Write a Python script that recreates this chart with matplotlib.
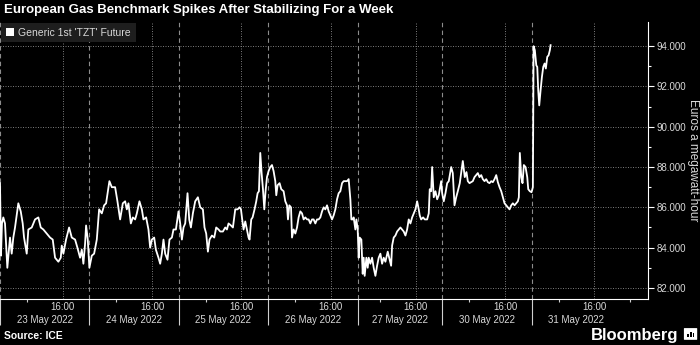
import matplotlib
matplotlib.use("Agg")
import matplotlib.pyplot as plt
from matplotlib.patches import Patch, FancyBboxPatch, Rectangle

plt.rcParams['font.family'] = ['Liberation Sans', 'DejaVu Sans']

# trading sessions shown on the (gap-free) time axis
days = ["23 May 2022", "24 May 2022", "25 May 2022", "26 May 2022",
        "27 May 2022", "30 May 2022", "31 May 2022"]
open_hour = [9, 9, 9, 9, 9.5, 9, 9]
close_hour = [19, 19, 19, 19, 19, 19, 19]
last_hour = 22   # axis runs on to 22:00 on the final day

# trading hours since the 23 May open, and price (EUR/MWh)
hours = [
    # 23 May
    0.00, 0.11, 0.22, 0.37, 0.56, 0.82, 1.12, 1.31, 1.49, 1.68, 2.05, 2.32, 2.54, 2.69,
    2.99, 3.17, 3.55, 3.92, 4.29, 4.56, 4.85, 5.23, 5.60, 5.90, 6.16, 6.53, 6.80, 6.91,
    7.09, 7.39, 7.73, 8.03, 8.40, 8.66, 8.96, 9.15, 9.33, 9.52, 9.63, 9.82, 10.00,
    # 24 May
    10.27, 10.53, 10.83, 11.09, 11.39, 11.65, 11.87, 12.24, 12.51, 12.88, 13.14, 13.44,
    13.74, 14.00, 14.19, 14.37, 14.64, 14.86, 15.12, 15.31, 15.60, 15.87, 16.05, 16.35,
    16.61, 16.80, 16.99, 17.25, 17.44, 17.73, 17.92, 18.11, 18.29, 18.48, 18.74, 18.96,
    19.23, 19.41, 19.68, 19.97,
    # 25 May
    20.16, 20.35, 20.53, 20.72, 20.98, 21.17, 21.36, 21.58, 21.84, 22.14, 22.40, 22.70,
    22.88, 23.07, 23.26, 23.44, 23.71, 23.97, 24.19, 24.45, 24.64, 24.94, 25.20, 25.39,
    25.57, 25.84, 26.06, 26.21, 26.32, 26.58, 26.80, 26.96, 27.07, 27.25, 27.44, 27.63,
    27.81, 27.92, 28.11, 28.26, 28.48, 28.67, 28.82, 28.97, 29.12, 29.27, 29.42, 29.57,
    29.71, 29.87, 30.05,
    # 26 May
    30.24, 30.43, 30.61, 30.80, 30.91, 31.06, 31.28, 31.47, 31.73, 31.92, 32.11, 32.22,
    32.37, 32.56, 32.67, 32.85, 33.04, 33.23, 33.41, 33.60, 33.79, 33.97, 34.16, 34.35,
    34.53, 34.72, 34.91, 35.09, 35.28, 35.47, 35.65, 35.84, 36.03, 36.21, 36.40, 36.59,
    36.77, 36.96, 37.15, 37.33, 37.52, 37.71, 37.89, 38.08, 38.27, 38.45, 38.64, 38.83,
    39.01, 39.20, 39.31, 39.46, 39.57, 39.76, 39.87, 40.02,
    # 27 May
    40.13, 40.24, 40.43, 40.58, 40.69, 40.80, 40.99, 41.14, 41.25, 41.44, 41.63, 41.81,
    42.00, 42.19, 42.37, 42.56, 42.75, 42.93, 43.12, 43.38, 43.60, 43.76, 43.87, 44.05,
    44.24, 44.43, 44.61, 44.80, 44.99, 45.17, 45.36, 45.55, 45.73, 45.92, 46.11, 46.29,
    46.48, 46.67, 46.85, 46.96, 47.12, 47.34, 47.52, 47.79, 47.97, 48.08, 48.24, 48.35,
    48.53, 48.72, 48.91, 49.09, 49.36, 49.47,
    # 30 May
    49.65, 49.84, 50.03, 50.21, 50.48, 50.66, 50.85, 51.04, 51.22, 51.44, 51.60, 51.78,
    52.00, 52.19, 52.34, 52.53, 52.72, 52.90, 53.09, 53.28, 53.46, 53.65, 53.84, 54.02,
    54.21, 54.40, 54.58, 54.77, 54.96, 55.14, 55.33, 55.52, 55.70, 55.89, 56.08, 56.26,
    56.45, 56.64, 56.82, 57.01, 57.20, 57.38, 57.57, 57.76, 57.94, 58.05, 58.16, 58.32,
    58.46, 58.61, 58.80, 58.99, 59.10, 59.28, 59.47, 59.62,
    # 31 May
    59.70, 59.84, 60.00, 60.11, 60.22, 60.33, 60.48, 60.63, 60.78, 60.93, 61.07, 61.23,
    61.38, 61.52, 61.60,
]
price = [
    # 23 May
    87.2, 83.6, 85.2, 85.5, 85.2, 83.0, 84.5, 83.7, 84.5, 85.0, 86.2, 85.8, 85.2, 84.5,
    83.7, 84.9, 85.0, 85.4, 85.5, 85.0, 84.9, 84.7, 84.5, 84.4, 83.5, 83.3, 83.5, 84.1,
    83.7, 84.4, 85.0, 84.5, 84.4, 84.0, 83.5, 83.9, 83.2, 84.2, 85.1, 84.4, 83.0,
    # 24 May
    83.6, 83.7, 84.4, 85.9, 85.7, 86.1, 86.2, 87.3, 87.0, 87.0, 86.3, 85.4,
    86.2, 86.3, 85.9, 86.2, 85.2, 85.5, 85.4, 85.7, 86.3, 85.9, 85.4, 85.5,
    84.9, 84.0, 84.4, 84.5, 83.9, 83.5, 83.2, 83.7, 84.4, 83.7, 83.4, 84.4,
    84.5, 84.9, 84.9, 85.8,
    # 25 May
    85.2, 84.4, 85.0, 85.2, 86.7, 85.4, 85.0, 85.7, 86.3, 86.5, 86.0, 85.9,
    85.0, 84.7, 83.8, 84.4, 84.6, 84.5, 85.0, 84.9, 84.8, 84.8, 85.0, 84.9,
    85.2, 85.1, 85.0, 85.5, 85.9, 85.9, 86.0, 85.9, 85.5, 84.9, 85.3, 84.9,
    84.5, 84.4, 85.4, 85.5, 85.9, 86.3, 86.7, 86.8, 88.7, 87.7, 86.9, 85.9,
    86.8, 87.5, 87.8,
    # 26 May
    88.0, 88.1, 87.8, 87.3, 86.6, 87.1, 87.2, 86.9, 86.8, 86.3, 86.1, 85.4,
    86.1, 86.0, 84.5, 84.9, 84.7, 85.0, 85.5, 85.8, 85.7, 85.4, 85.5, 85.4,
    85.4, 85.2, 85.4, 85.4, 85.2, 85.4, 85.4, 85.5, 85.8, 86.0, 85.9, 86.1,
    85.8, 85.6, 85.4, 85.6, 85.9, 86.4, 86.7, 86.8, 87.2, 87.3, 87.3, 87.3,
    87.4, 86.4, 85.4, 85.4, 85.5, 84.9, 85.4, 84.9,
    # 27 May
    83.5, 84.5, 84.4, 82.7, 83.5, 82.6, 83.5, 83.0, 83.5, 83.2, 83.5, 83.0,
    82.6, 83.1, 83.5, 83.7, 83.2, 83.5, 83.3, 83.8, 83.4, 83.1, 84.1, 84.5,
    84.6, 84.8, 84.9, 85.0, 84.9, 84.8, 84.6, 84.9, 85.4, 85.2, 85.5, 85.7,
    85.9, 86.3, 85.9, 85.6, 85.4, 85.5, 85.4, 85.4, 85.7, 86.9, 86.8, 88.0,
    86.5, 86.8, 86.4, 86.6, 87.3, 86.7,
    # 30 May
    86.3, 86.7, 87.2, 87.3, 88.0, 87.7, 86.1, 86.5, 86.8, 87.2, 87.7, 88.3,
    87.5, 87.75, 87.3, 87.2, 87.25, 87.3, 87.5, 87.6, 87.7, 87.5, 87.6, 87.4,
    87.3, 87.4, 87.25, 87.2, 87.3, 87.25, 87.4, 87.6, 87.25, 87.0, 86.8, 86.5,
    86.2, 86.1, 86.0, 85.9, 86.1, 86.2, 86.1, 86.2, 86.3, 86.5, 88.7, 87.5,
    87.2, 88.1, 88.0, 87.5, 86.9, 86.8, 86.75, 87.0,
    # 31 May
    94.0, 93.8, 93.05, 92.97, 91.8, 91.06, 91.8, 92.47, 92.97, 93.14, 92.89, 93.47,
    93.55, 93.8, 94.05,
]

y_major = [82, 84, 86, 88, 90, 92, 94]
y_minor = [83, 85, 87, 89, 91, 93]

title = "European Gas Benchmark Spikes After Stabilizing For a Week"
series_name = "Generic 1st 'TZT' Future"
y_title = "Euros a megawatt-hour"
source = "Source: ICE"

grid_col = "#8c8c8c"
txt_col = "#d9d9d9"

# session start positions on the gap-free axis
starts = [0]
for o, c in zip(open_hour[:-1], close_hour[:-1]):
    starts.append(starts[-1] + c - o)
x_end = starts[-1] + last_hour - open_hour[-1]
ends = starts[1:] + [x_end]


def at(i, h):
    return starts[i] + h - open_hour[i]


sixteen = [at(i, 16) for i in range(len(days))]
centers = [at(i, (open_hour[i] + close_hour[i]) / 2) for i in range(len(days))]
small = [at(i, h) for i in range(len(days)) for h in (12, 20) if at(i, h) < ends[i]]

fig = plt.figure(figsize=(7, 3.45), dpi=100, facecolor="black")
ax = fig.add_axes([0, 46 / 345, 648 / 700, 277 / 345])
ax.set_facecolor("black")

for s in starts:
    ax.axvline(s, color=grid_col, lw=0.8, ls=(0, (4, 3)), zorder=1)
for p in sixteen:
    ax.axvline(p, color=grid_col, lw=0.6, ls=(0, (1.2, 1.8)), zorder=1)
ax.yaxis.grid(True, color=grid_col, lw=0.6, ls=(0, (1.2, 1.8)), zorder=1)
ax.set_axisbelow(True)

ax.plot(hours, price, color="white", lw=1.3, zorder=3)

ax.set_xlim(0, x_end)
ax.set_ylim(81.45, 95.2)

# y axis on the right
ax.yaxis.tick_right()
ax.set_yticks(y_major, labels=[f"{v:.3f}" for v in y_major])
ax.set_yticks(y_minor, minor=True)
ax.tick_params(axis="y", which="major", length=4, width=0.8, color="white",
               labelcolor=txt_col, labelsize=7, pad=2)
ax.tick_params(axis="y", which="minor", length=2.5, width=0.8, color="white")

# x axis: day separators (long), 12:00 marks (short)
ax.set_xticks(starts, labels=[""] * len(starts))
ax.set_xticks(small, minor=True)
ax.tick_params(axis="x", which="major", length=19, width=0.8, color="#cfcfcf")
ax.tick_params(axis="x", which="minor", length=2.5, width=0.8, color="#cfcfcf")

sec = ax.secondary_xaxis("bottom")
sec.set_xticks(sixteen, labels=["16:00"] * len(sixteen))
sec.set_xticks(centers, labels=days, minor=True)
sec.tick_params(which="major", length=0, pad=2.5, labelsize=7, labelcolor=txt_col)
sec.tick_params(which="minor", length=0, pad=11.5, labelsize=7, labelcolor=txt_col)
sec.spines["bottom"].set_visible(False)

for side in ("left", "top"):
    ax.spines[side].set_visible(False)
for side in ("bottom", "right"):
    ax.spines[side].set_color("white")
    ax.spines[side].set_linewidth(0.8)

leg = ax.legend(handles=[Patch(facecolor="white", edgecolor="none")], labels=[series_name],
                loc="upper left", bbox_to_anchor=(0.002, 0.996), borderaxespad=0,
                frameon=True, fancybox=False, facecolor="#1e1e1e", edgecolor="none",
                framealpha=1, fontsize=7.5, labelcolor=txt_col, handlelength=0.8,
                handleheight=0.8, handletextpad=0.4, borderpad=0.45)

fig.text(0.005, 0.970, title, color="white", fontsize=9.5, fontweight="bold", va="center")
fig.text(0.99, (46 + 277 / 2) / 345, y_title, color=txt_col, fontsize=8.5,
         rotation=270, ha="center", va="center")
fig.text(0.005, 0.026, source, color="white", fontsize=7.5, fontweight="bold", va="center")
fig.text(0.969, 0.028, "Bloomberg", color="white", fontsize=12, fontweight="bold",
         ha="right", va="center")

# little logo mark next to the wordmark
fig.patches.append(FancyBboxPatch((0.978, 0.016), 0.017, 0.032,
                                  boxstyle="round,pad=0.001", transform=fig.transFigure,
                                  facecolor="white", edgecolor="none"))
for bx, bh in ((0.982, 0.010), (0.986, 0.016), (0.990, 0.012)):
    fig.patches.append(Rectangle((bx, 0.022), 0.002, bh, transform=fig.transFigure,
                                 facecolor="black", edgecolor="none"))

fig.savefig("out.png", dpi=100, facecolor="black")
